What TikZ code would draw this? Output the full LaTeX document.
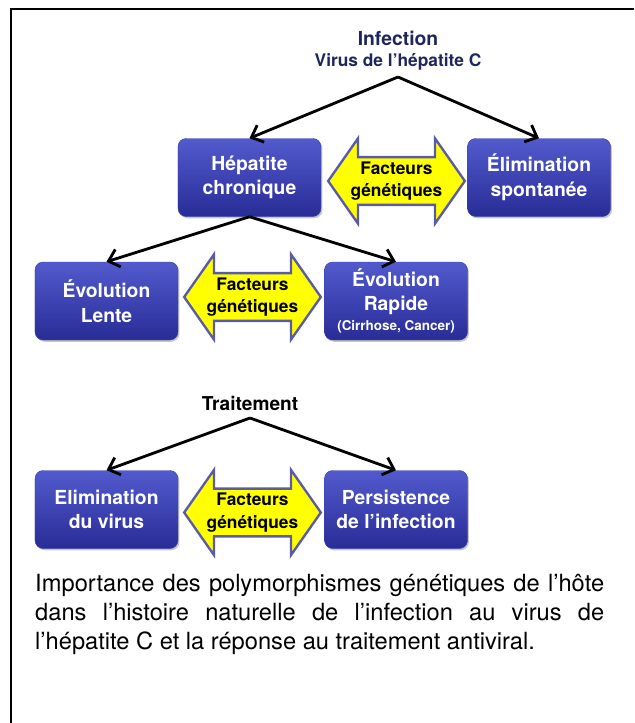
\documentclass[tikz,border=0pt]{standalone}
\usepackage{fontspec}
\setmainfont{TeX Gyre Heros}
\usepackage{tikz}
\usetikzlibrary{shapes.arrows,arrows.meta,positioning,shadows}
\usepackage{xcolor}
\definecolor{cBoxTop}{RGB}{82,90,205}
\definecolor{cBoxBot}{RGB}{40,44,150}
\definecolor{cBoxLine}{RGB}{60,64,172}
\definecolor{cNavy}{RGB}{30,38,92}
\definecolor{cArrLine}{RGB}{90,90,170}
\definecolor{cYel}{RGB}{255,255,0}
\tikzset{
  bluebox/.style={rectangle,rounded corners=7pt,draw=cBoxLine,thin,
                  top color=cBoxTop,bottom color=cBoxBot,text=white,
                  align=center,font=\fontsize{16.5}{21}\selectfont\bfseries,
                  minimum width=4.29cm,minimum height=2.34cm,inner sep=2pt,
                  drop shadow={shadow xshift=1.2pt,shadow yshift=-1.5pt,
                               opacity=.45,fill=gray}},
  facteurs/.style={double arrow,draw=cArrLine,line width=2pt,fill=cYel,
                   double arrow head extend=0.52cm,double arrow tip angle=110,
                   minimum height=4.1cm,minimum width=2.56cm,inner sep=1pt,
                   align=center,font=\fontsize{14.8}{19.5}\selectfont\bfseries},
  titre/.style={align=center,font=\bfseries},
  arr/.style={-{Straight Barb[length=3mm,width=5.5mm,line width=2.4pt]},
              line width=2.4pt,black,line join=miter}
}
\begin{document}
\begin{tikzpicture}[x=0.03cm,y=-0.03cm]
  \useasboundingbox (0,0) rectangle (634,723);
  % cadre
  \draw[line width=1.6pt] (11,723) -- (11,9) -- (634,9);

  % infection
  \node[titre,text=cNavy,font=\fontsize{16.5}{20}\selectfont\bfseries] (infection) at (398,38) {Infection};
  \node[titre,text=cNavy,font=\fontsize{14.8}{17}\selectfont\bfseries] (virus) at (398,62) {Virus de l’hépatite C};
  \coordinate (sommet1) at (398,77);

  \node[bluebox] (hepatite) at (249.5,177.5) {Hépatite\\chronique};
  \node[bluebox] (spont) at (539,177.5) {Élimination\\spontanée};
  \node[facteurs] (gen1) at (396.5,181) {Facteurs\\génétiques};

  \draw[arr] (sommet1) -- (hepatite.north);
  \draw[arr] (sommet1) -- (spont.north);

  % evolution
  \node[bluebox] (lente) at (106.5,301) {Évolution\\Lente};
  \node[bluebox] (rapide) at (396,301) {Évolution\\Rapide\\[-4pt]{\fontsize{11.5}{13}\selectfont (Cirrhose, Cancer)}};
  \node[facteurs] (gen2) at (252.5,297) {Facteurs\\génétiques};

  \draw[arr] (hepatite.south) -- (lente.north);
  \draw[arr] (hepatite.south) -- (rapide.north);

  % traitement
  \node[titre,font=\fontsize{16.3}{19}\selectfont\bfseries] (traitement) at (250,403) {Traitement};
  \coordinate (sommet2) at (250,418);

  \node[bluebox] (elimvir) at (106.5,509.5) {Elimination\\du virus};
  \node[bluebox] (persist) at (396,509.5) {Persistence\\de l’infection};
  \node[facteurs] (gen3) at (252.5,512.5) {Facteurs\\génétiques};

  \draw[arr] (sommet2) -- (elimvir.north);
  \draw[arr] (sommet2) -- (persist.north);

  % legende
  \node[anchor=north west,inner sep=0pt,text width=17.07cm,align=justify,
        font=\fontsize{20.2}{24.6}\selectfont] (legende) at (35,574)
    {Importance des polymorphismes génétiques de l’hôte\linebreak
     dans l’histoire naturelle de l’infection au virus de\linebreak
     l’hépatite C et la réponse au traitement antiviral.};
\end{tikzpicture}
\end{document}
